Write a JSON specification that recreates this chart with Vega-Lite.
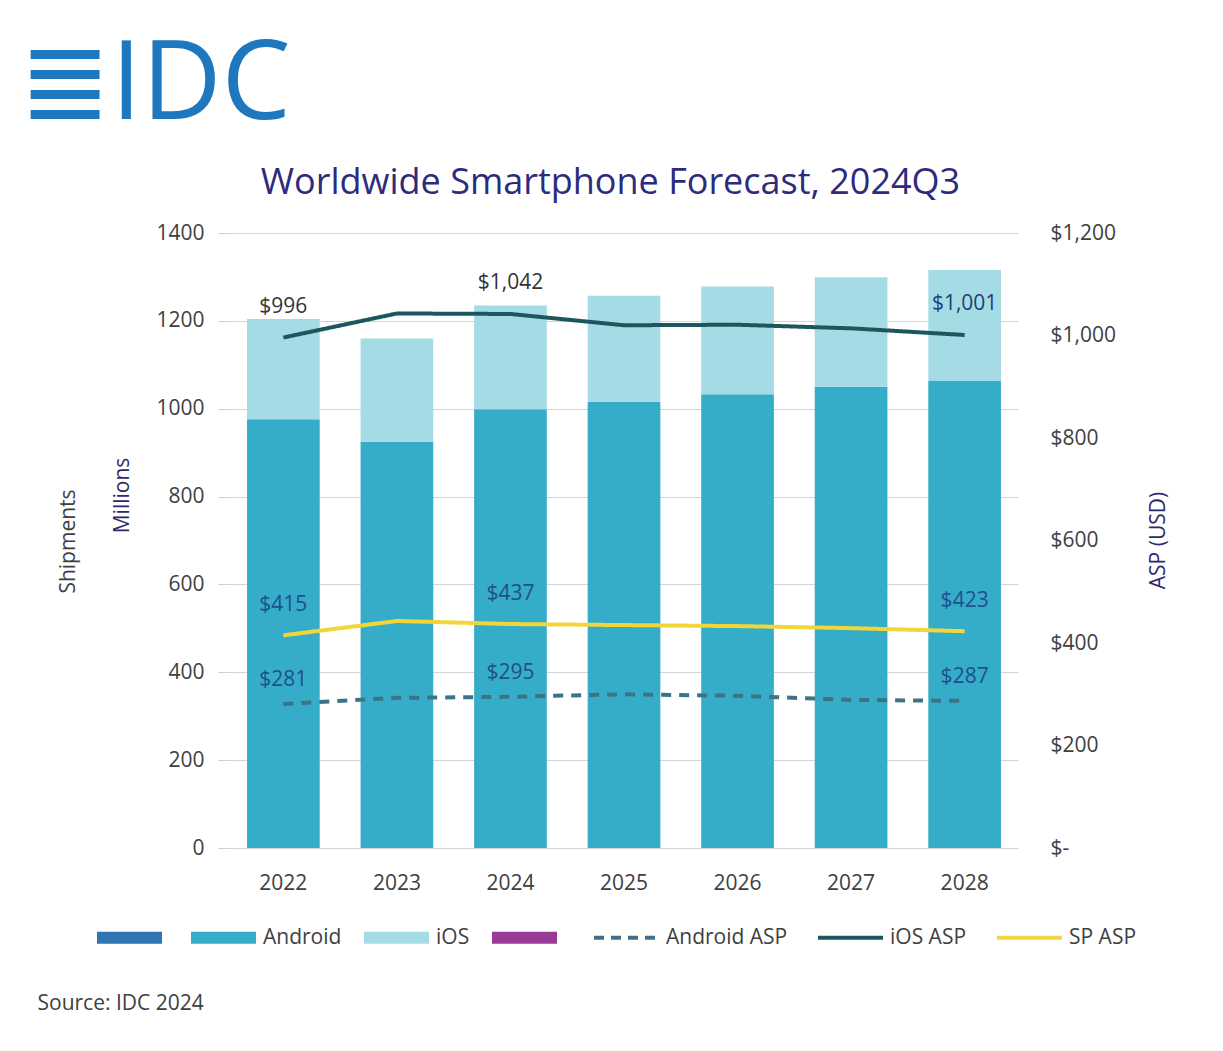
{
  "$schema": "https://vega.github.io/schema/vega-lite/v6.json",
  "width": 788,
  "height": 615,
  "autosize": {"type": "none"},
  "padding": {"left": 230, "top": 233, "right": 205, "bottom": 203},
  "background": "white",
  "config": {
    "font": "Open Sans",
    "view": {"stroke": null},
    "axis": {"labelFont": "Open Sans", "titleFont": "Open Sans"},
    "legend": {"labelFont": "Open Sans", "titleFont": "Open Sans"}
  },
  "title": {
    "text": "≣IDC",
    "anchor": "start",
    "frame": "bounds",
    "fontSize": 110,
    "fontWeight": "normal",
    "color": "#1f77bd",
    "dx": -18,
    "offset": 22
  },
  "datasets": {
    "shipments": [
      {"year": "2022", "series": "Android", "value": 976},
      {"year": "2022", "series": "iOS", "value": 228},
      {"year": "2023", "series": "Android", "value": 925},
      {"year": "2023", "series": "iOS", "value": 235},
      {"year": "2024", "series": "Android", "value": 999},
      {"year": "2024", "series": "iOS", "value": 236},
      {"year": "2025", "series": "Android", "value": 1016},
      {"year": "2025", "series": "iOS", "value": 241},
      {"year": "2026", "series": "Android", "value": 1033},
      {"year": "2026", "series": "iOS", "value": 245},
      {"year": "2027", "series": "Android", "value": 1050},
      {"year": "2027", "series": "iOS", "value": 249},
      {"year": "2028", "series": "Android", "value": 1064},
      {"year": "2028", "series": "iOS", "value": 252}
    ],
    "asp": [
      {"year": "2022", "series": "Android ASP", "value": 281},
      {"year": "2023", "series": "Android ASP", "value": 293},
      {"year": "2024", "series": "Android ASP", "value": 295},
      {"year": "2025", "series": "Android ASP", "value": 300},
      {"year": "2026", "series": "Android ASP", "value": 297},
      {"year": "2027", "series": "Android ASP", "value": 289},
      {"year": "2028", "series": "Android ASP", "value": 287},
      {"year": "2022", "series": "iOS ASP", "value": 996},
      {"year": "2023", "series": "iOS ASP", "value": 1043},
      {"year": "2024", "series": "iOS ASP", "value": 1042},
      {"year": "2025", "series": "iOS ASP", "value": 1020},
      {"year": "2026", "series": "iOS ASP", "value": 1021},
      {"year": "2027", "series": "iOS ASP", "value": 1014},
      {"year": "2028", "series": "iOS ASP", "value": 1001},
      {"year": "2022", "series": "SP ASP", "value": 415},
      {"year": "2023", "series": "SP ASP", "value": 443},
      {"year": "2024", "series": "SP ASP", "value": 437},
      {"year": "2025", "series": "SP ASP", "value": 435},
      {"year": "2026", "series": "SP ASP", "value": 433},
      {"year": "2027", "series": "SP ASP", "value": 429},
      {"year": "2028", "series": "SP ASP", "value": 423}
    ]
  },
  "layer": [
    {
      "data": {"name": "shipments"},
      "encoding": {
        "x": {
          "field": "year",
          "type": "ordinal",
          "scale": {"paddingInner": 0.36, "paddingOuter": 0.15},
          "axis": {
            "orient": "bottom",
            "labelAngle": 0,
            "labelFontSize": 21,
            "labelColor": "#404040",
            "labelPadding": 24,
            "ticks": false,
            "domain": false,
            "grid": false,
            "title": "Source: IDC 2024",
            "titleFontSize": 21,
            "titleFontWeight": "normal",
            "titleColor": "#404040",
            "titleX": -193,
            "titleY": 155,
            "titleAlign": "left",
            "titleBaseline": "middle",
            "titleAnchor": null
          }
        }
      },
      "layer": [
        {
          "mark": {"type": "bar"},
          "encoding": {
            "y": {
              "field": "value",
              "type": "quantitative",
              "stack": "zero",
              "scale": {"domain": [0, 1400], "nice": false},
              "axis": {
                "orient": "left",
                "values": [0, 200, 400, 600, 800, 1000, 1200, 1400],
                "format": "d",
                "labelFontSize": 21,
                "labelColor": "#404040",
                "labelPadding": 14,
                "tickSize": 12,
                "tickColor": "#cfcfcf",
                "domain": false,
                "grid": true,
                "gridColor": "#d4d4d4",
                "title": "Millions",
                "titleFontSize": 21,
                "titleFontWeight": "normal",
                "titleColor": "#2d2b6e",
                "titleAngle": 270,
                "titleX": -108,
                "titleY": 262,
                "titleAlign": "center",
                "titleBaseline": "middle"
              }
            },
            "color": {
              "field": "series",
              "type": "nominal",
              "scale": {
                "domain": ["s1", "Android", "iOS", "s2", "Android ASP", "iOS ASP", "SP ASP"],
                "range": ["#2f76b3", "#36adc8", "#a4dbe5", "#9a3a97", "#3b7585", "#1d575e", "#f1d53b"]
              },
              "legend": {
                "orient": "none",
                "legendX": -111,
                "legendY": 694,
                "direction": "horizontal",
                "columns": 7,
                "title": null,
                "symbolSize": 4225,
                "labelFontSize": 21,
                "labelColor": "#404040",
                "labelOffset": 29,
                "columnPadding": 22,
                "labelExpr": "datum.label == 's1' || datum.label == 's2' ? '' : datum.label",
                "encode": {
                  "symbols": {
                    "update": {
                      "shape": {"signal": "indexof(['Android ASP','iOS ASP','SP ASP'], datum.value) >= 0 ? 'M-1,0H1' : 'M-1,-0.185H1V0.185H-1Z'"},
                      "fill": {"signal": "indexof(['Android ASP','iOS ASP','SP ASP'], datum.value) >= 0 ? 'transparent' : scale('color', datum.value)"},
                      "stroke": {"signal": "scale('color', datum.value)"},
                      "strokeWidth": {"signal": "indexof(['Android ASP','iOS ASP','SP ASP'], datum.value) >= 0 ? 4 : 0"},
                      "strokeDash": {"signal": "datum.value == 'Android ASP' ? [10, 7] : [1, 0]"},
                      "opacity": {"value": 1}
                    }
                  }
                }
              }
            },
            "order": {"field": "series", "sort": "ascending"}
          }
        },
        {
          "mark": {"type": "rule", "opacity": 0},
          "encoding": {
            "y": {
              "field": "value",
              "type": "quantitative",
              "scale": {"domain": [0, 1400], "nice": false},
              "axis": {
                "orient": "left",
                "labels": false,
                "ticks": false,
                "domain": false,
                "grid": false,
                "title": "Shipments",
                "titleFontSize": 21,
                "titleFontWeight": "normal",
                "titleColor": "#404040",
                "titleAngle": 270,
                "titleX": -162,
                "titleY": 308,
                "titleAlign": "center",
                "titleBaseline": "middle"
              }
            }
          }
        }
      ],
      "resolve": {"axis": {"y": "independent"}}
    },
    {
      "data": {"name": "asp"},
      "encoding": {
        "x": {
          "field": "year",
          "type": "ordinal",
          "axis": {
            "orient": "top",
            "labels": false,
            "ticks": false,
            "domain": false,
            "grid": false,
            "title": "Worldwide Smartphone Forecast, 2024Q3",
            "titleFontSize": 36,
            "titleFontWeight": "normal",
            "titleColor": "#2d2b7c",
            "titleX": 380,
            "titleY": -40,
            "titleAlign": "center",
            "titleBaseline": "alphabetic",
            "titleAnchor": null
          }
        },
        "y": {
          "field": "value",
          "type": "quantitative",
          "scale": {"domain": [0, 1200], "nice": false},
          "axis": {
            "orient": "right",
            "values": [0, 200, 400, 600, 800, 1000, 1200],
            "labelExpr": "datum.value == 0 ? '$-' : '$' + format(datum.value, ',')",
            "labelFontSize": 21,
            "labelColor": "#404040",
            "labelPadding": 32,
            "ticks": false,
            "domain": false,
            "grid": false,
            "title": "ASP (USD)",
            "titleFontSize": 21,
            "titleFontWeight": "normal",
            "titleColor": "#2d2b6e",
            "titleAngle": 270,
            "titleX": 140,
            "titleY": 307,
            "titleAlign": "center",
            "titleBaseline": "middle"
          }
        }
      },
      "layer": [
        {
          "mark": {"type": "line", "strokeWidth": 4},
          "encoding": {
            "color": {"field": "series", "type": "nominal"},
            "strokeDash": {
              "field": "series",
              "type": "nominal",
              "scale": {"domain": ["Android ASP", "iOS ASP", "SP ASP"], "range": [[10, 8], [1, 0], [1, 0]]},
              "legend": null
            }
          }
        },
        {
          "transform": [
            {"filter": "datum.series == 'iOS ASP' && (datum.year == '2022' || datum.year == '2024' || datum.year == '2028')"}
          ],
          "mark": {"type": "text", "fontSize": 21, "dy": -31, "baseline": "middle"},
          "encoding": {
            "text": {"field": "value", "type": "quantitative", "format": "$,.0f"},
            "color": {"condition": {"test": "datum.year == '2028'", "value": "#1f3f78"}, "value": "#333333"}
          }
        },
        {
          "transform": [
            {"filter": "datum.series == 'SP ASP' && (datum.year == '2022' || datum.year == '2024' || datum.year == '2028')"}
          ],
          "mark": {"type": "text", "fontSize": 21, "dy": -30, "baseline": "middle", "color": "#1f4f8c"},
          "encoding": {
            "text": {"field": "value", "type": "quantitative", "format": "$,.0f"}
          }
        },
        {
          "transform": [
            {"filter": "datum.series == 'Android ASP' && (datum.year == '2022' || datum.year == '2024' || datum.year == '2028')"}
          ],
          "mark": {"type": "text", "fontSize": 21, "dy": -24, "baseline": "middle", "color": "#1f4f8c"},
          "encoding": {
            "text": {"field": "value", "type": "quantitative", "format": "$,.0f"}
          }
        }
      ]
    }
  ],
  "resolve": {"scale": {"y": "independent"}, "axis": {"x": "independent"}}
}
